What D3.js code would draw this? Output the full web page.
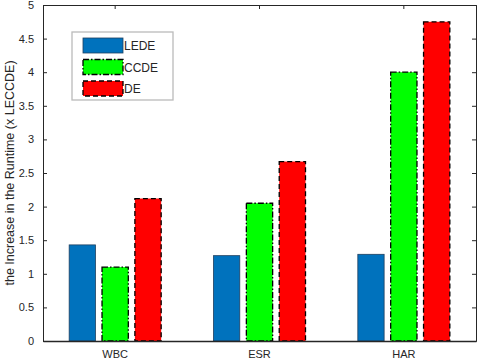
<!DOCTYPE html>
<html lang="en">
<head>
    <meta charset="utf-8">
    <title>Runtime Increase</title>
    <style>
        body {
            margin: 0;
            background: #fff;
        }
        svg {
            font-family: "Liberation Sans", Arial, sans-serif;
        }
        .axis text {
            font-size: 11px;
            fill: #262626;
        }
        .axis path, .axis line {
            stroke: #262626;
        }
    </style>
</head>
<body>
<svg class="chart"></svg>
<script src="https://d3js.org/d3.v7.min.js"></script>
<script>

  const categories = ["WBC", "ESR", "HAR"];
  const seriesNames = ["LEDE", "CCDE", "DE"];
  const lede = [1.43, 1.27, 1.29];
  const ccde = [1.1, 2.05, 4.0];
  const de = [2.12, 2.67, 4.75];
  const yTicks = [0, 0.5, 1, 1.5, 2, 2.5, 3, 3.5, 4, 4.5, 5];

  const seriesValues = [lede, ccde, de];
  const fills = ["#0072BD", "#00FF00", "#FF0000"];
  const strokes = ["#1f3f5f", "#000", "#000"];
  const dashes = [null, "6,2,1.5,2", "5,3"];

  const width = 478, height = 362;
  const margin = {top: 5, right: 2, bottom: 21, left: 43};
  const w = width - margin.left - margin.right;
  const h = height - margin.top - margin.bottom;

  const svg = d3.select(".chart")
    .attr("width", width)
    .attr("height", height);

  const g = svg.append("g")
    .attr("transform", `translate(${margin.left},${margin.top})`);

  const x = d3.scaleBand()
    .domain(categories)
    .range([0, w]);

  const xInner = d3.scaleBand()
    .domain(seriesNames)
    .range([0, 92])
    .paddingInner(0.2);

  const y = d3.scaleLinear()
    .domain([0, 5])
    .range([h, 0]);

  // bars
  seriesNames.forEach((name, si) => {
    g.selectAll(".bar-" + si)
      .data(seriesValues[si])
      .enter()
      .append("rect")
      .attr("x", (d, i) => x(categories[i]) + x.bandwidth() / 2 - 46 + xInner(name))
      .attr("y", d => y(d))
      .attr("width", xInner.bandwidth())
      .attr("height", d => h - y(d))
      .style("fill", fills[si])
      .style("stroke", strokes[si])
      .style("stroke-width", si === 0 ? 0.8 : 1.3)
      .style("stroke-dasharray", dashes[si]);
  });

  // axes
  const yAxis = d3.axisLeft(y).tickValues(yTicks).tickFormat(d3.format("")).tickSize(-4).tickPadding(9);
  g.append("g").attr("class", "axis").call(yAxis)
    .call(s => s.selectAll(".tick line").attr("stroke", "#999"));

  const yRight = d3.axisRight(y).tickValues(yTicks).tickSize(-4).tickFormat("");
  g.append("g").attr("class", "axis").attr("transform", `translate(${w},0)`).call(yRight)
    .call(s => s.select(".domain").attr("stroke", "#999"))
    .call(s => s.selectAll(".tick line").attr("stroke", "#999"));

  const xAxis = d3.axisBottom(x).tickSize(0).tickPadding(9);
  g.append("g").attr("class", "axis").attr("transform", `translate(0,${h})`).call(xAxis)
    .call(s => s.select(".domain").attr("stroke", "#444").attr("stroke-width", 1.5));

  const xTop = d3.axisTop(x).tickSize(-4).tickFormat("");
  g.append("g").attr("class", "axis").call(xTop)
    .call(s => s.select(".domain").attr("stroke", "#999"))
    .call(s => s.selectAll(".tick line").attr("stroke", "#999"));

  // y label
  svg.append("text")
    .attr("transform", `translate(14,${margin.top + h / 2}) rotate(-90)`)
    .attr("text-anchor", "middle")
    .style("font-size", "12.5px")
    .style("fill", "#262626")
    .text("the Increase in the Runtime (x LECCDE)");

  // legend
  const legend = svg.append("g").attr("transform", "translate(72,32)");
  legend.append("rect")
    .attr("width", 101).attr("height", 68)
    .style("fill", "#fff").style("stroke", "#bbb").style("stroke-width", 1.3);

  seriesNames.forEach((name, si) => {
    const row = legend.append("g").attr("transform", `translate(11,${6 + si * 21.5})`);
    row.append("rect")
      .attr("width", 40).attr("height", 15)
      .style("fill", fills[si])
      .style("stroke", strokes[si])
      .style("stroke-width", si === 0 ? 0.8 : 1.3)
      .style("stroke-dasharray", dashes[si]);
    row.append("text")
      .attr("x", 41).attr("y", 12)
      .style("font-size", "12px")
      .style("fill", "#262626")
      .text(name);
  });

</script>
</body>
</html>
